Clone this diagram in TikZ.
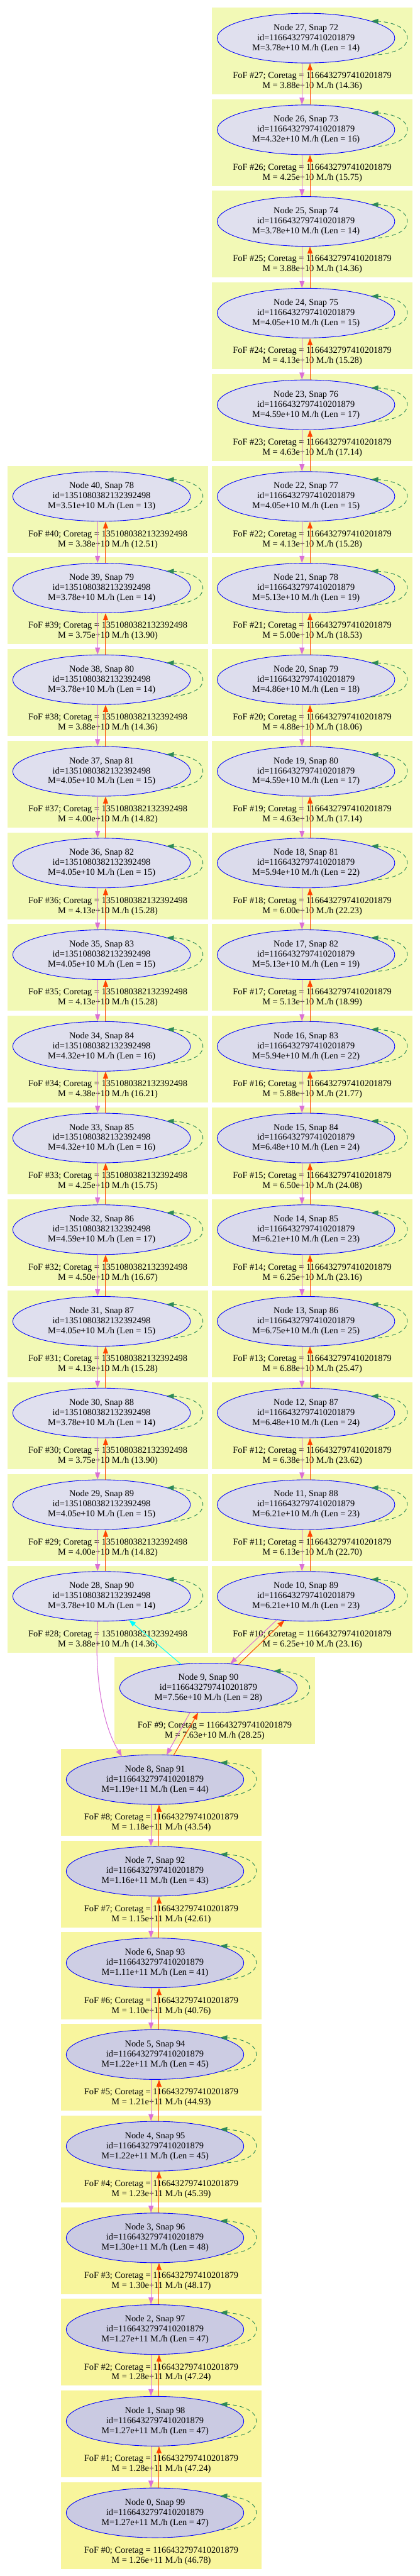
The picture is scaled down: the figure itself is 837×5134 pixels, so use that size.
\documentclass[tikz,border=0pt]{standalone}
\usepackage{fontspec}
\setmainfont{Liberation Serif}
\usetikzlibrary{shapes.geometric,arrows.meta}
\definecolor{nodeHi}{HTML}{E0E0EE}
\definecolor{nodeLo}{HTML}{CACAE2}
\definecolor{clHi}{HTML}{F2F9B6}
\definecolor{clLo}{HTML}{F8F59C}
\definecolor{progcol}{HTML}{DA70D6}
\definecolor{desccol}{HTML}{FF4500}
\definecolor{loopcol}{HTML}{2E8B57}
\definecolor{mergecol}{HTML}{00FFFF}
\tikzset{
  haloshape/.style={ellipse, draw=blue, line width=1.1pt, minimum width=354pt,
    minimum height=99pt, inner sep=0pt, align=center, font=\fontsize{18}{20}\selectfont},
  foflabel/.style={align=center, inner sep=0pt, font=\fontsize{18}{20}\selectfont},
  headed/.style={-{Triangle[length=14pt,width=10pt]}},
  progedge/.style={headed, draw=progcol, line width=1.3pt},
  descedge/.style={headed, draw=desccol, line width=1.3pt},
  mergeedge/.style={headed, draw=mergecol, line width=1.3pt},
  selfloop/.style={headed, draw=loopcol, line width=1.2pt, dash pattern=on 8pt off 6pt},
}
% #1 num, #2 cx, #3 row, #4 snap, #5 id, #6 M, #7 len, #8 FoF M, #9 FoF paren
\newcommand\halonode[9]{%
  \pgfmathsetmacro\hcy{76+182.67*#3}%
  \pgfmathtruncatemacro\hpct{max(0,min(100,(#7-14)/33*100))}%
  \fill[clLo!\hpct!clHi] (#2-187,\hcy-61) rectangle (#2+212,\hcy+112);
  \node[foflabel] (f#1) at (#2+12.5,\hcy+86) {FoF \##1; Coretag = #5\\M = #8 M./h (#9)};
  \node[haloshape, fill=nodeLo!\hpct!nodeHi] (n#1) at (#2,\hcy)
    {Node #1, Snap #4\\id=#5\\M=#6 M./h (Len = #7)};
  \draw[selfloop] ([shift={(130,34)}]n#1.center)
    .. controls ([shift={(175,32)}]n#1.center) and ([shift={(202,20)}]n#1.center)
    .. ([shift={(202,0)}]n#1.center)
    .. controls ([shift={(202,-20)}]n#1.center) and ([shift={(175,-32)}]n#1.center)
    .. ([shift={(130,-34)}]n#1.center);
}
\begin{document}
\begin{tikzpicture}[x=1pt,y=-1pt]
\useasboundingbox[fill=white] (0,0) rectangle (837,5134);
% right column
\def\ida{1166432797410201879}
\def\idb{1351080382132392498}
\halonode{27}{610}{0}{72}{\ida}{3.78e+10}{14}{3.88e+10}{14.36}
\halonode{26}{610}{1}{73}{\ida}{4.32e+10}{16}{4.25e+10}{15.75}
\halonode{25}{610}{2}{74}{\ida}{3.78e+10}{14}{3.88e+10}{14.36}
\halonode{24}{610}{3}{75}{\ida}{4.05e+10}{15}{4.13e+10}{15.28}
\halonode{23}{610}{4}{76}{\ida}{4.59e+10}{17}{4.63e+10}{17.14}
\halonode{22}{610}{5}{77}{\ida}{4.05e+10}{15}{4.13e+10}{15.28}
\halonode{21}{610}{6}{78}{\ida}{5.13e+10}{19}{5.00e+10}{18.53}
\halonode{20}{610}{7}{79}{\ida}{4.86e+10}{18}{4.88e+10}{18.06}
\halonode{19}{610}{8}{80}{\ida}{4.59e+10}{17}{4.63e+10}{17.14}
\halonode{18}{610}{9}{81}{\ida}{5.94e+10}{22}{6.00e+10}{22.23}
\halonode{17}{610}{10}{82}{\ida}{5.13e+10}{19}{5.13e+10}{18.99}
\halonode{16}{610}{11}{83}{\ida}{5.94e+10}{22}{5.88e+10}{21.77}
\halonode{15}{610}{12}{84}{\ida}{6.48e+10}{24}{6.50e+10}{24.08}
\halonode{14}{610}{13}{85}{\ida}{6.21e+10}{23}{6.25e+10}{23.16}
\halonode{13}{610}{14}{86}{\ida}{6.75e+10}{25}{6.88e+10}{25.47}
\halonode{12}{610}{15}{87}{\ida}{6.48e+10}{24}{6.38e+10}{23.62}
\halonode{11}{610}{16}{88}{\ida}{6.21e+10}{23}{6.13e+10}{22.70}
\halonode{10}{610}{17}{89}{\ida}{6.21e+10}{23}{6.25e+10}{23.16}
% left column
\halonode{40}{202.5}{5}{78}{\idb}{3.51e+10}{13}{3.38e+10}{12.51}
\halonode{39}{202.5}{6}{79}{\idb}{3.78e+10}{14}{3.75e+10}{13.90}
\halonode{38}{202.5}{7}{80}{\idb}{3.78e+10}{14}{3.88e+10}{14.36}
\halonode{37}{202.5}{8}{81}{\idb}{4.05e+10}{15}{4.00e+10}{14.82}
\halonode{36}{202.5}{9}{82}{\idb}{4.05e+10}{15}{4.13e+10}{15.28}
\halonode{35}{202.5}{10}{83}{\idb}{4.05e+10}{15}{4.13e+10}{15.28}
\halonode{34}{202.5}{11}{84}{\idb}{4.32e+10}{16}{4.38e+10}{16.21}
\halonode{33}{202.5}{12}{85}{\idb}{4.32e+10}{16}{4.25e+10}{15.75}
\halonode{32}{202.5}{13}{86}{\idb}{4.59e+10}{17}{4.50e+10}{16.67}
\halonode{31}{202.5}{14}{87}{\idb}{4.05e+10}{15}{4.13e+10}{15.28}
\halonode{30}{202.5}{15}{88}{\idb}{3.78e+10}{14}{3.75e+10}{13.90}
\halonode{29}{202.5}{16}{89}{\idb}{4.05e+10}{15}{4.00e+10}{14.82}
\halonode{28}{202.5}{17}{90}{\idb}{3.78e+10}{14}{3.88e+10}{14.36}
% merger and bottom column
\halonode{9}{415.5}{18}{90}{\ida}{7.56e+10}{28}{7.63e+10}{28.25}
\halonode{8}{309}{19}{91}{\ida}{1.19e+11}{44}{1.18e+11}{43.54}
\halonode{7}{309}{20}{92}{\ida}{1.16e+11}{43}{1.15e+11}{42.61}
\halonode{6}{309}{21}{93}{\ida}{1.11e+11}{41}{1.10e+11}{40.76}
\halonode{5}{309}{22}{94}{\ida}{1.22e+11}{45}{1.21e+11}{44.93}
\halonode{4}{309}{23}{95}{\ida}{1.22e+11}{45}{1.23e+11}{45.39}
\halonode{3}{309}{24}{96}{\ida}{1.30e+11}{48}{1.30e+11}{48.17}
\halonode{2}{309}{25}{97}{\ida}{1.27e+11}{47}{1.28e+11}{47.24}
\halonode{1}{309}{26}{98}{\ida}{1.27e+11}{47}{1.28e+11}{47.24}
\halonode{0}{309}{27}{99}{\ida}{1.27e+11}{47}{1.26e+11}{46.78}
% vertical chains
\foreach \k in {11,...,27,29,30,...,40,1,2,...,8}{%
  \pgfmathtruncatemacro\j{\k-1}%
  \draw[progedge] ([xshift=-8pt]n\k.south) -- ([xshift=-8pt]n\j.north);
  \draw[descedge] ([xshift=8pt]n\j.north) -- ([xshift=8pt]n\k.south);
}
% crossing edges
\draw[progedge] ([shift={(-58,46.8)}]n10.center) -- ([shift={(43.5,-48)}]n9.center);
\draw[descedge] ([shift={(59.5,-46.6)}]n9.center) -- ([shift={(-43,48)}]n10.center);
\draw[progedge] ([shift={(-36.5,48.4)}]n9.center) -- ([shift={(23,-49.1)}]n8.center);
\draw[descedge] ([shift={(37,-48.4)}]n8.center) -- ([shift={(-20.5,49.2)}]n9.center);
\draw[mergeedge] ([shift={(-54.5,-47.1)}]n9.center) -- ([shift={(54.5,47.1)}]n28.center);
\draw[progedge] ([shift={(-7.5,49.4)}]n28.center)
  .. controls ([shift={(-14.5,139)}]n28.center) and ([shift={(-109,-116)}]n8.center)
  .. ([shift={(-66,-46)}]n8.center);
\end{tikzpicture}
\end{document}
